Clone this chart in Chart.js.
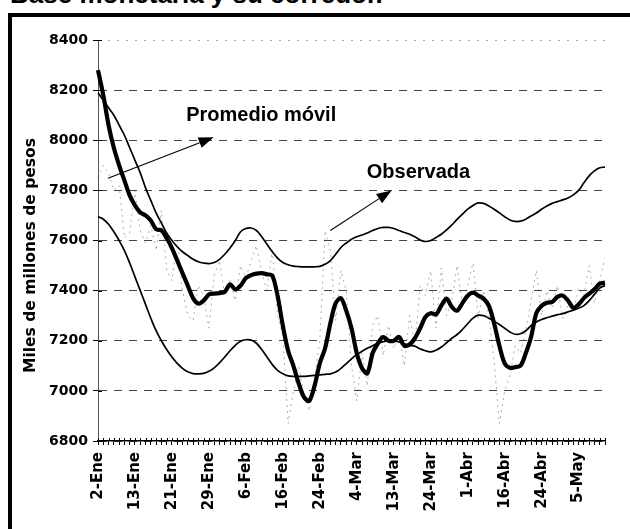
<!DOCTYPE html>
<html>
<head>
<meta charset="utf-8">
<script src="https://cdn.jsdelivr.net/npm/chart.js@4/dist/chart.umd.min.js"></script>
<style>
  html, body { margin: 0; padding: 0; background: #fff; }
  body { width: 630px; height: 529px; position: relative; overflow: hidden; }
  #frame { position: absolute; left: 8px; top: 13px; width: 700px; height: 600px;
           border-left: 4px solid #000; border-top: 4px solid #000; }
  #title { position: absolute; left: 10px; top: -19px; font: bold 26px "Liberation Sans", Arial, sans-serif;
           line-height: 26px; white-space: nowrap; color: #000; }
  #wrap { position: absolute; left: 0; top: 0; width: 630px; height: 529px; }
</style>
</head>
<body>
<div id="title">Base monetaria y su corredor.</div>
<div id="frame"></div>
<div id="wrap"><canvas id="c" width="630" height="529"></canvas></div>
<script>
// ---- data ----
const tickLabels = ['2-Ene','13-Ene','21-Ene','29-Ene','6-Feb','16-Feb','24-Feb','4-Mar','13-Mar','24-Mar','1-Abr','16-Abr','24-Abr','5-May'];
const labelEvery = 7;

const promedioMovil = [
 8280,8180,8060,7970,7900,7840,7780,7740,7712,7700,
 7680,7645,7640,7610,7570,7520,7470,7420,7370,7348,
 7360,7385,7388,7390,7395,7425,7405,7420,7450,7462,
 7468,7470,7465,7460,7380,7260,7160,7100,7030,6975,
 6960,7020,7110,7170,7270,7350,7370,7320,7250,7150,
 7090,7070,7150,7190,7215,7200,7200,7215,7180,7185,
 7210,7250,7295,7310,7305,7340,7368,7335,7320,7350,
 7380,7392,7380,7368,7340,7270,7180,7110,7092,7095,
 7100,7150,7215,7310,7340,7352,7355,7375,7380,7360,
 7332,7345,7370,7388,7405,7428,7432];

const bandaSuperior = [
 8190,8160,8130,8100,8060,8020,7970,7920,7870,7810,
 7760,7710,7670,7630,7600,7575,7555,7540,7525,7515,
 7510,7508,7512,7525,7545,7570,7600,7635,7648,7650,
 7640,7615,7585,7555,7530,7512,7503,7498,7496,7495,
 7495,7495,7497,7505,7520,7545,7572,7590,7605,7615,
 7622,7630,7640,7648,7652,7652,7648,7640,7632,7625,
 7615,7602,7596,7600,7612,7625,7642,7662,7684,7705,
 7725,7740,7750,7748,7738,7725,7710,7695,7682,7676,
 7677,7685,7698,7710,7725,7738,7748,7755,7762,7770,
 7782,7800,7830,7858,7878,7890,7893];

const bandaInferior = [
 7695,7685,7665,7635,7600,7560,7510,7455,7400,7345,
 7290,7240,7200,7165,7135,7110,7090,7076,7069,7068,
 7070,7078,7092,7112,7135,7160,7182,7198,7204,7203,
 7190,7165,7135,7105,7082,7068,7060,7058,7058,7058,
 7060,7062,7064,7066,7068,7075,7090,7108,7128,7145,
 7158,7170,7180,7190,7196,7200,7200,7195,7188,7182,
 7178,7168,7160,7156,7162,7175,7192,7210,7225,7245,
 7268,7290,7302,7300,7290,7278,7265,7250,7235,7226,
 7228,7240,7260,7275,7285,7292,7298,7304,7308,7315,
 7322,7330,7340,7360,7385,7410,7420];

const observada = [
 7850,7900,7870,7800,7820,7610,7630,7800,7640,7590,
 7660,7560,7720,7480,7440,7600,7400,7300,7280,7420,
 7380,7250,7460,7520,7380,7440,7360,7500,7450,7520,
 7580,7470,7400,7560,7300,7220,6870,7000,7100,6980,
 6920,7050,7200,7640,7560,7280,7480,7400,7100,6960,
 7150,7020,7260,7300,7140,7260,7170,7220,7100,7300,
 7180,7420,7380,7480,7250,7490,7300,7360,7500,7340,
 7420,7510,7290,7400,7300,7120,6870,7000,7060,7180,
 7150,7240,7360,7480,7300,7400,7330,7420,7290,7340,
 7320,7410,7380,7500,7350,7440,7530];

const yTicks = [6800,7000,7200,7400,7600,7800,8000,8200,8400];
const yTitle = 'Miles de millones de pesos';

const labels = observada.map((_, i) => (i % labelEvery === 0 ? (tickLabels[i / labelEvery] || '') : ''));

// annotations placed in data units (index, value)
const notes = [
  { text: 'Promedio móvil', x: 16.7, y: 8076, from: [1.9, 7848], to: [21.9, 8012] },
  { text: 'Observada',      x: 50.9, y: 7848, from: [44.0, 7640], to: [55.6, 7800] }
];

const annotPlugin = {
  id: 'annot',
  afterDatasetsDraw(chart) {
    const { ctx, scales: { x, y }, chartArea } = chart;
    ctx.save();
    // small inner tick marks across the axes
    ctx.strokeStyle = '#000'; ctx.lineWidth = 1;
    for (let i = 0; i < labels.length; i++) {
      const px = Math.round(x.getPixelForValue(i)) + 0.5;
      ctx.beginPath(); ctx.moveTo(px, chartArea.bottom - 3); ctx.lineTo(px, chartArea.bottom); ctx.stroke();
    }
    yTicks.forEach(v => {
      const py = Math.round(y.getPixelForValue(v)) + 0.5;
      ctx.beginPath(); ctx.moveTo(chartArea.left, py); ctx.lineTo(chartArea.left + 4, py); ctx.stroke();
    });
    // y axis title
    ctx.save();
    ctx.translate(31, y.getPixelForValue(7540));
    ctx.rotate(-Math.PI / 2);
    ctx.font = 'bold 15.5px "DejaVu Sans", sans-serif';
    ctx.textAlign = 'center'; ctx.textBaseline = 'middle'; ctx.fillStyle = '#000';
    ctx.fillText(yTitle, 0, 0);
    ctx.restore();
    // notes
    notes.forEach(n => {
      ctx.fillStyle = '#000';
      ctx.font = 'bold 20px "Liberation Sans", Arial, sans-serif';
      ctx.textBaseline = 'alphabetic';
      ctx.textAlign = 'left';
      ctx.fillText(n.text, x.getPixelForValue(n.x), y.getPixelForValue(n.y));
      const x1 = x.getPixelForValue(n.from[0]), y1 = y.getPixelForValue(n.from[1]);
      const x2 = x.getPixelForValue(n.to[0]),   y2 = y.getPixelForValue(n.to[1]);
      const ang = Math.atan2(y2 - y1, x2 - x1);
      const hl = 15, hw = 5.5;
      const bx = x2 - hl * Math.cos(ang), by = y2 - hl * Math.sin(ang);
      ctx.strokeStyle = '#000'; ctx.lineWidth = 1.1;
      ctx.beginPath(); ctx.moveTo(x1, y1); ctx.lineTo(bx, by); ctx.stroke();
      ctx.beginPath();
      ctx.moveTo(x2, y2);
      ctx.lineTo(bx + hw * Math.sin(ang), by - hw * Math.cos(ang));
      ctx.lineTo(bx - hw * Math.sin(ang), by + hw * Math.cos(ang));
      ctx.closePath(); ctx.fill();
    });
    ctx.restore();
  }
};

new Chart(document.getElementById('c'), {
  type: 'line',
  data: {
    labels: labels,
    datasets: [
      { label: 'Promedio móvil', data: promedioMovil, borderColor: '#000', borderWidth: 4.2, tension: 0.3, pointRadius: 0 },
      { label: 'Banda superior', data: bandaSuperior, borderColor: '#000', borderWidth: 1.7, tension: 0.4, pointRadius: 0 },
      { label: 'Banda inferior', data: bandaInferior, borderColor: '#000', borderWidth: 1.7, tension: 0.4, pointRadius: 0 },
      { label: 'Observada', data: observada, borderColor: 'rgba(0,0,0,0.32)', borderWidth: 1, borderDash: [2, 4], tension: 0, pointRadius: 0 }
    ]
  },
  options: {
    responsive: false,
    animation: false,
    devicePixelRatio: 1,
    layout: { padding: { left: 0, right: 18, top: 40, bottom: 0 } },
    plugins: { legend: { display: false }, tooltip: { enabled: false }, title: { display: false } },
    scales: {
      x: {
        type: 'category',
        offset: false,
        grid: { drawOnChartArea: false, color: '#000', tickLength: 4, lineWidth: 1 },
        border: { color: '#000', width: 1.5 },
        ticks: {
          autoSkip: false, minRotation: 90, maxRotation: 90, padding: 7, color: '#000',
          font: { family: '"DejaVu Sans", sans-serif', weight: 'bold', size: 15 }
        },
        afterFit(s) { s.height = 88; }
      },
      y: {
        min: 6800, max: 8400,
        afterBuildTicks(s) { s.ticks = yTicks.map(v => ({ value: v })); },
        grid: {
          color: (c) => (c.tick && c.tick.value === 8400 ? '#aaa' : '#444'),
          lineWidth: 1, tickLength: 5, tickColor: '#000'
        },
        border: { color: '#555', width: 1, dash: (c) => (c.tick && c.tick.value === 8400 ? [2, 7] : [8, 7]) },
        ticks: {
          padding: 5, color: '#000',
          callback: (v) => String(v),
          font: { family: '"DejaVu Sans", sans-serif', weight: 'bold', size: 14 }
        },
        title: { display: false },
        afterFit(s) { s.width = 98; }
      }
    }
  },
  plugins: [annotPlugin]
});
</script>
</body>
</html>
